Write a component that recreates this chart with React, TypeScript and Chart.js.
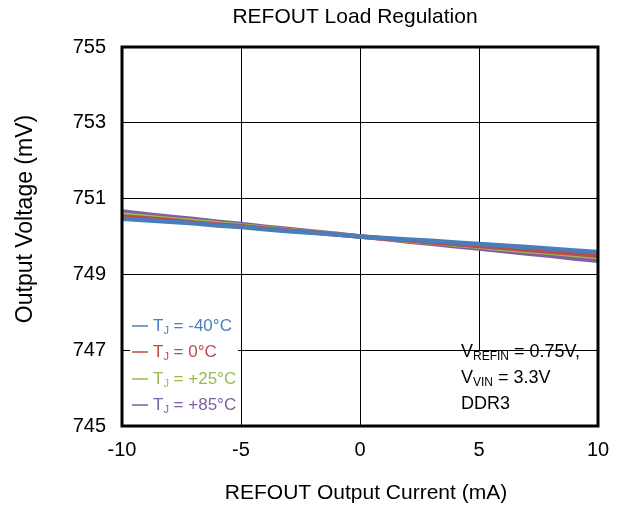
import React, { useEffect, useRef } from "react";
import { Chart, registerables } from "chart.js";

Chart.register(...registerables);

// Load current (mA)
const currents = [-10, -9, -8, -7, -6, -5, -4, -3, -2, -1, 0, 1, 2, 3, 4, 5, 6, 7, 8, 9, 10];

// Output voltage (mV) per junction temperature
const vMinus40 = [750.47, 750.43, 750.39, 750.35, 750.29, 750.25, 750.19, 750.14, 750.10, 750.05, 750.00, 749.96, 749.92, 749.89, 749.84, 749.80, 749.76, 749.72, 749.68, 749.63, 749.59];
const v0 = [750.53, 750.48, 750.43, 750.37, 750.32, 750.27, 750.21, 750.16, 750.11, 750.05, 750.00, 749.95, 749.90, 749.85, 749.80, 749.75, 749.70, 749.65, 749.60, 749.55, 749.49];
const v25 = [750.58, 750.52, 750.46, 750.41, 750.35, 750.29, 750.23, 750.17, 750.12, 750.06, 750.00, 749.95, 749.89, 749.84, 749.78, 749.73, 749.67, 749.62, 749.57, 749.51, 749.46];
const v85 = [750.66, 750.59, 750.52, 750.46, 750.39, 750.33, 750.26, 750.20, 750.13, 750.07, 750.00, 749.94, 749.87, 749.81, 749.74, 749.68, 749.62, 749.55, 749.49, 749.42, 749.36];

const seriesTemps = ["-40°C", "0°C", "+25°C", "+85°C"];
const seriesColors = ["#4A7EBB", "#BE4B48", "#98B954", "#7D60A0"];

const xTicks = [-10, -5, 0, 5, 10];
const yTicks = [745, 747, 749, 751, 753, 755];

const FONT = '"Liberation Sans", Arial, sans-serif';

// Draws text with an optional subscript part, returns end x
function drawSub(ctx: CanvasRenderingContext2D, x: number, y: number, main: string, sub: string, rest: string, size: number, color: string) {
  ctx.fillStyle = color;
  ctx.textBaseline = "middle";
  ctx.textAlign = "left";
  ctx.font = `${size}px ${FONT}`;
  ctx.fillText(main, x, y);
  x += ctx.measureText(main).width;
  if (sub) {
    const s = Math.round(size * 0.65);
    ctx.font = `${s}px ${FONT}`;
    ctx.fillText(sub, x, y + size * 0.28);
    x += ctx.measureText(sub).width;
  }
  ctx.font = `${size}px ${FONT}`;
  ctx.fillText(rest, x, y);
  return x + ctx.measureText(rest).width;
}

const overlayPlugin = {
  id: "overlay",
  beforeDatasetsDraw(chart: any) {
    const { ctx, chartArea } = chart;
    const { left, bottom } = chartArea;
    ctx.save();
    // legend box
    ctx.fillStyle = "#fff";
    ctx.fillRect(left + 8, 312, 108, 106);
    // test-condition box
    ctx.fillRect(460, 351, 127, bottom - 351);

    const rows = [326, 352, 379, 405];
    seriesTemps.forEach((t, i) => {
      const y = rows[i];
      ctx.strokeStyle = seriesColors[i];
      ctx.lineWidth = 1.5;
      ctx.beginPath();
      ctx.moveTo(left + 10, y);
      ctx.lineTo(left + 26, y);
      ctx.stroke();
      drawSub(ctx, left + 31, y, "T", "J", " = " + t, 17, seriesColors[i]);
    });

    drawSub(ctx, 461, 352, "V", "REFIN", " = 0.75V,", 18, "#000");
    drawSub(ctx, 461, 378, "V", "VIN", " = 3.3V", 18, "#000");
    drawSub(ctx, 461, 404, "DDR3", "", "", 18, "#000");
    ctx.restore();
  },
  afterDatasetsDraw(chart: any) {
    const { ctx, chartArea } = chart;
    const { left, right, top, bottom } = chartArea;
    ctx.save();
    ctx.strokeStyle = "#000";
    ctx.lineWidth = 3;
    ctx.strokeRect(left, top, right - left, bottom - top);
    ctx.restore();
  },
  afterDraw(chart: any) {
    const { ctx } = chart;
    ctx.save();
    ctx.fillStyle = "#000";
    ctx.textAlign = "center";
    ctx.textBaseline = "middle";
    ctx.font = `21px ${FONT}`;
    ctx.fillText("REFOUT Load Regulation", 355, 17);
    ctx.fillText("REFOUT Output Current (mA)", 366, 493);
    ctx.font = `23px ${FONT}`;
    ctx.translate(26, 219);
    ctx.rotate(-Math.PI / 2);
    ctx.fillText("Output Voltage (mV)", 0, 0);
    ctx.restore();
  },
};

export default function App() {
  const ref = useRef<HTMLCanvasElement | null>(null);

  useEffect(() => {
    document.body.style.margin = "0";
    const canvas = ref.current;
    if (!canvas) return;
    const data = [vMinus40, v0, v25, v85];
    const chart = new Chart(canvas, {
      type: "line",
      data: {
        datasets: data.map((vals, i) => ({
          label: "TJ = " + seriesTemps[i],
          data: currents.map((c, k) => ({ x: c, y: vals[k] })),
          borderColor: seriesColors[i],
          backgroundColor: seriesColors[i],
          borderWidth: 4.5,
          pointRadius: 0,
          tension: 0,
        })),
      },
      options: {
        responsive: false,
        animation: false,
        devicePixelRatio: 1,
        layout: { padding: { top: 47, right: 21, left: 0, bottom: 0 } },
        plugins: {
          legend: { display: false },
          title: { display: false },
          tooltip: { enabled: false },
        },
        scales: {
          x: {
            type: "linear",
            min: -10,
            max: 10,
            afterFit: (s: any) => { s.height = 83; s.paddingLeft = 0; s.paddingRight = 0; },
            afterBuildTicks: (s: any) => { s.ticks = xTicks.map((v) => ({ value: v })); },
            ticks: { color: "#000", font: { family: FONT, size: 20 }, padding: 12, maxRotation: 0 },
            grid: { color: "#000", lineWidth: 1, drawTicks: false },
            border: { display: false },
          },
          y: {
            type: "linear",
            min: 745,
            max: 755,
            afterFit: (s: any) => { s.width = 122; s.paddingTop = 0; s.paddingBottom = 0; },
            afterBuildTicks: (s: any) => { s.ticks = yTicks.map((v) => ({ value: v })); },
            ticks: { color: "#000", font: { family: FONT, size: 20 }, padding: 16 },
            grid: { color: "#000", lineWidth: 1, drawTicks: false },
            border: { display: false },
          },
        },
      },
      plugins: [overlayPlugin],
    });
    return () => chart.destroy();
  }, []);

  return (
    <div style={{ position: "fixed", left: 0, top: 0, width: 619, height: 509, background: "#fff" }}>
      <canvas ref={ref} width={619} height={509} style={{ display: "block" }} />
    </div>
  );
}
